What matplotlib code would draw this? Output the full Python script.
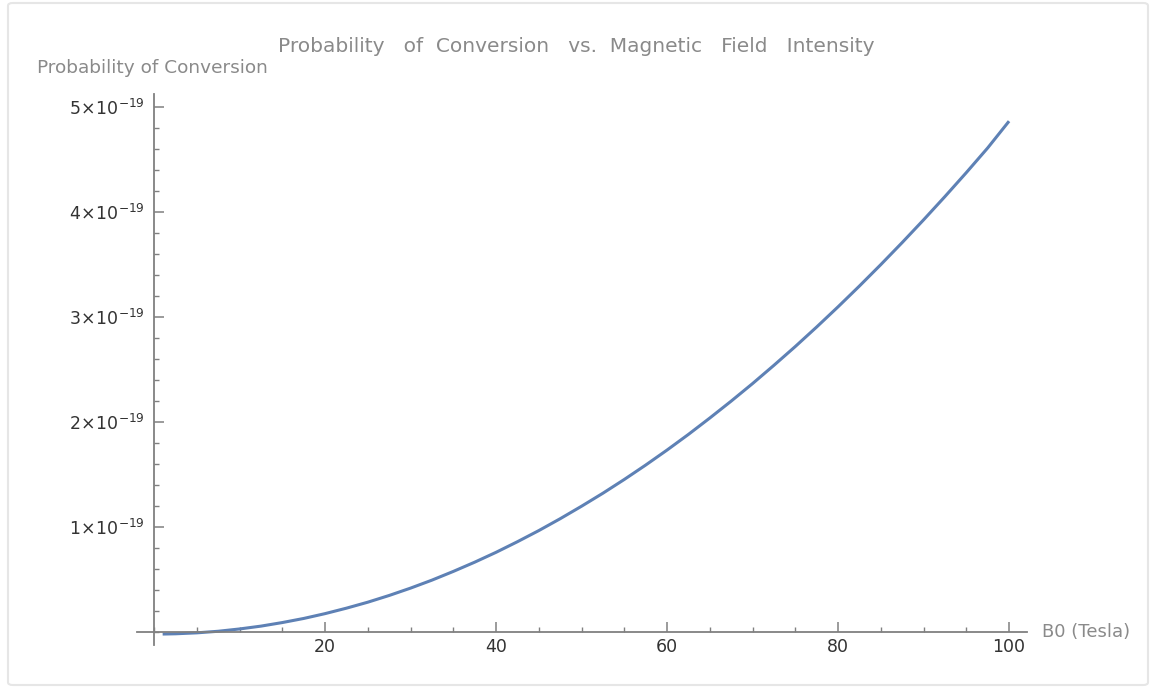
import matplotlib
matplotlib.use("Agg")
import matplotlib.pyplot as plt
from matplotlib.ticker import FixedLocator, MultipleLocator, NullFormatter
from matplotlib.patches import FancyBboxPatch

# Data (B0 in Tesla, probability in units of 1e-19)
b0 = [1, 2.5, 5, 7.5, 10, 12.5, 15, 17.5, 20, 22.5, 25, 27.5, 30, 32.5, 35, 37.5,
      40, 42.5, 45, 47.5, 50, 52.5, 55, 57.5, 60, 62.5, 65, 67.5, 70, 72.5, 75,
      77.5, 80, 82.5, 85, 87.5, 90, 92.5, 95, 97.5, 100]
prob_e19 = [-0.0195, -0.017, -0.008, 0.007, 0.029, 0.056, 0.090, 0.129, 0.175,
            0.227, 0.284, 0.348, 0.418, 0.494, 0.577, 0.665, 0.759, 0.860, 0.966,
            1.079, 1.198, 1.322, 1.453, 1.590, 1.733, 1.882, 2.038, 2.199, 2.366,
            2.540, 2.719, 2.905, 3.097, 3.295, 3.499, 3.709, 3.925, 4.147, 4.375,
            4.610, 4.865]
prob = [v * 1e-19 for v in prob_e19]

x_ticks = [20, 40, 60, 80, 100]
y_tick_mult = [1, 2, 3, 4, 5]
y_ticks = [m * 1e-19 for m in y_tick_mult]
y_tick_labels = [r"$%d\!\times\!10^{-19}$" % m for m in y_tick_mult]

title = "Probability   of  Conversion   vs.  Magnetic   Field   Intensity"
ylabel = "Probability of Conversion"
xlabel = "B0 (Tesla)"

axis_col = "#808080"
text_col = "#8a8a8a"

fig = plt.figure(figsize=(11.56, 6.88), dpi=100)
fig.patch.set_facecolor("white")
border = FancyBboxPatch((8 / 1156, 3 / 688), 1140 / 1156, 682 / 688,
                        boxstyle="round,pad=0,rounding_size=0.004",
                        transform=fig.transFigure, fill=False,
                        edgecolor="#e6e6e6", linewidth=1.5)
fig.patches.append(border)

ax = fig.add_axes([137 / 1156, (688 - 644.6) / 688, 890 / 1156, 550.2 / 688])
ax.plot(b0, prob, color="#5E81B5", linewidth=2.2, solid_capstyle="butt")

ax.set_xlim(-2, 102.1)
ax.set_ylim(-0.12e-19, 5.12e-19)

for s in ["top", "right"]:
    ax.spines[s].set_visible(False)
ax.spines["left"].set_position(("data", 0))
ax.spines["bottom"].set_position(("data", 0))
for s in ["left", "bottom"]:
    ax.spines[s].set_color(axis_col)
    ax.spines[s].set_linewidth(1.3)

ax.xaxis.set_major_locator(FixedLocator(x_ticks))
ax.xaxis.set_minor_locator(MultipleLocator(5))
ax.yaxis.set_major_locator(FixedLocator(y_ticks))
ax.set_yticklabels(y_tick_labels)
ax.yaxis.set_minor_locator(MultipleLocator(0.2e-19))
ax.xaxis.set_minor_formatter(NullFormatter())
ax.yaxis.set_minor_formatter(NullFormatter())

ax.tick_params(axis="both", which="major", direction="in", length=7, width=1.1,
               color=axis_col, labelcolor="#333333", labelsize=12.5)
ax.tick_params(axis="both", which="minor", direction="in", length=3.5, width=1.0,
               color=axis_col)
ax.tick_params(axis="x", which="major", pad=4)
ax.tick_params(axis="y", which="major", pad=7)

fig.text(576 / 1156, 1 - 47 / 688, title, ha="center", va="center",
         fontsize=14.5, color=text_col)
fig.text(37 / 1156, 1 - 68 / 688, ylabel, ha="left", va="center",
         fontsize=13.3, color=text_col)
fig.text(1042 / 1156, 1 - 632 / 688, xlabel, ha="left", va="center",
         fontsize=13, color=text_col)

fig.savefig("out.png", dpi=100, facecolor="white")
